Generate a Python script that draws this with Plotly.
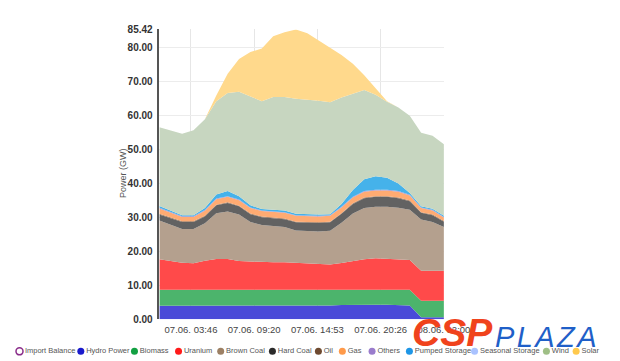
import plotly.graph_objects as go

# ---------------- data ----------------
hours = [1, 2, 3, 4, 5, 6, 7, 8, 9, 10, 11, 12, 13, 14, 15, 16, 17, 18, 19, 20, 21, 22, 23, 24, 25, 26]

hydro = [4.0, 4.0, 3.9, 3.9, 4.0, 4.0, 4.1, 4.1, 4.1, 4.1, 4.1, 4.1, 4.1, 4.1, 4.1, 4.1, 4.2, 4.3, 4.3, 4.3, 4.3, 4.2, 4.1, 0.6, 0.6, 0.6]
biomass = [4.7, 4.7, 4.8, 4.8, 4.7, 4.7, 4.6, 4.6, 4.6, 4.6, 4.6, 4.6, 4.6, 4.7, 4.7, 4.7, 4.7, 4.6, 4.6, 4.6, 4.6, 4.6, 4.6, 4.9, 4.9, 4.9]
uranium = [9.0, 8.5, 8.0, 7.8, 8.6, 9.1, 9.1, 8.5, 8.3, 8.2, 8.1, 8.1, 8.0, 7.7, 7.5, 7.4, 7.7, 8.3, 8.8, 9.1, 9.0, 9.0, 8.8, 8.8, 8.8, 8.8]
brown_coal = [11.4, 10.6, 9.9, 10.1, 11.0, 13.5, 14.0, 13.7, 11.7, 10.9, 10.6, 10.4, 9.5, 9.5, 9.6, 9.9, 11.9, 14.0, 15.1, 15.2, 15.3, 15.1, 14.8, 15.1, 14.4, 12.9]
hard_coal = [1.8, 2.0, 2.1, 2.1, 2.0, 2.3, 2.5, 2.4, 2.3, 2.3, 2.3, 2.3, 2.4, 2.4, 2.5, 2.5, 2.6, 2.8, 2.9, 2.9, 2.9, 2.8, 2.5, 2.0, 2.0, 1.6]
oil = [0.2] * 26
gas = [1.6, 1.5, 1.3, 1.3, 1.5, 1.6, 1.6, 1.6, 1.6, 1.6, 1.7, 1.7, 1.7, 1.7, 1.7, 1.7, 1.7, 1.7, 1.7, 1.7, 1.7, 1.7, 1.5, 1.2, 1.2, 1.0]
others = [0.2] * 26
pumped = [0.5, 0.3, 0.3, 0.3, 0.6, 1.2, 1.5, 1.0, 0.6, 0.4, 0.5, 0.5, 0.4, 0.4, 0.4, 0.3, 0.8, 2.0, 3.5, 4.0, 3.5, 2.2, 0.5, 0.3, 0.3, 0.3]
seasonal = [0.0] * 26
wind = [23.2, 23.7, 24.0, 25.0, 26.2, 27.5, 28.9, 30.8, 32.1, 31.8, 33.2, 33.4, 33.9, 33.9, 33.5, 33.0, 31.4, 28.4, 26.3, 24.0, 22.4, 22.4, 22.8, 21.7, 21.5, 21.1]
solar = [0, 0, 0, 0, 0, 1.7, 5.7, 9.6, 13.1, 15.5, 17.9, 19.1, 20.4, 19.5, 17.8, 16.0, 12.5, 8.8, 4.3, 1.9, 0.2, 0, 0, 0, 0, 0]

tick_hours = [3.778, 9.333, 14.889, 20.444, 26.0]
tick_labels = ["07.06. 03:46", "07.06. 09:20", "07.06. 14:53", "07.06. 20:26", "08.06. 02:00"]

y_ticks = [0, 10, 20, 30, 40, 50, 60, 70, 80, 85.42]
y_labels = ["0.00", "10.00", "20.00", "30.00", "40.00", "50.00", "60.00", "70.00", "80.00", "85.42"]

legend_names = ["Import Balance", "Hydro Power", "Biomass", "Uranium", "Brown Coal", "Hard Coal",
                "Oil", "Gas", "Others", "Pumped Storage", "Seasonal Storage", "Wind", "Solar"]
legend_colors = ["#ffffff", "#1a1acc", "#12a042", "#ff1a1a", "#9c8064", "#2a2a2a",
                 "#6e4a30", "#ff9a4a", "#9a7ccc", "#1e96e6", "#a9c2ff", "#9fbf86", "#ffc94d"]
legend_x_px = [12, 76, 132, 178, 222, 276, 324, 349, 380, 419, 487, 562, 593]

# ---------------- figure ----------------
W, H = 620, 361
series = [
    ("Hydro Power", hydro, "#4a4ad8"),
    ("Biomass", biomass, "#4cb46c"),
    ("Uranium", uranium, "#ff4a4a"),
    ("Brown Coal", brown_coal, "#b4a08e"),
    ("Hard Coal", hard_coal, "#626262"),
    ("Oil", oil, "#8a6a52"),
    ("Gas", gas, "#ffab72"),
    ("Others", others, "#a592cf"),
    ("Pumped Storage", pumped, "#45b2ea"),
    ("Seasonal Storage", seasonal, "#b6cbff"),
    ("Wind", wind, "#c7d6c0"),
    ("Solar", solar, "#ffd98c"),
]

fig = go.Figure()
for name, vals, col in series:
    fig.add_trace(go.Scatter(
        x=hours, y=vals, name=name, mode="lines", stackgroup="one",
        line=dict(width=0, color=col), fillcolor=col, showlegend=False,
        hoverinfo="skip"))

# custom legend drawn in pixel space
fig.add_trace(go.Scatter(
    x=legend_x_px, y=[349] * len(legend_x_px), xaxis="x2", yaxis="y2",
    mode="markers+text", text=legend_names, textposition="middle right",
    textfont=dict(size=7.5, color="#555555", family="Liberation Sans"),
    marker=dict(size=7, color=legend_colors,
                line=dict(width=[1.5] + [0] * 12, color="#8a2d8a")),
    showlegend=False, cliponaxis=False, hoverinfo="skip"))

fig.update_layout(
    width=W, height=H,
    margin=dict(l=0, r=0, t=0, b=0),
    paper_bgcolor="white", plot_bgcolor="rgba(0,0,0,0)",
    showlegend=False,
    font=dict(family="Liberation Sans", color="#444444"),
    xaxis=dict(
        domain=[158 / W, 455 / W], range=[1, 26],
        tickvals=tick_hours, ticktext=tick_labels, tickangle=0,
        tickfont=dict(size=9.5, color="#444444"),
        showgrid=True, gridcolor="#e6e6e6", gridwidth=1,
        showline=False, zeroline=False, ticks="", ticklabelstandoff=3),
    yaxis=dict(
        domain=[1 - 316 / H, 1 - 17 / H], range=[0, 85.42],
        tickvals=y_ticks, ticktext=y_labels,
        tickfont=dict(size=10, color="#333333", weight="bold"),
        showgrid=True, gridcolor="#ececec", gridwidth=1,
        showline=True, linecolor="#555555", linewidth=1.5,
        zeroline=False, ticks="", ticklabelstandoff=3),
    xaxis2=dict(domain=[0, 1], range=[0, W], visible=False, anchor="y2", fixedrange=True),
    yaxis2=dict(domain=[0, 1], range=[H, 0], visible=False, anchor="x2", fixedrange=True),
    annotations=[
        dict(text="Power (GW)", x=120 / W, y=1 - 165 / H, xref="paper", yref="paper",
             xanchor="center", yanchor="middle",
             textangle=-90, showarrow=False, font=dict(size=9, color="#555555")),
        dict(text="<b><i>CSP</i></b>", x=464 / W, y=1 - 330 / H, xref="paper", yref="paper",
             xanchor="center", yanchor="middle",
             showarrow=False, font=dict(size=39, color="#f0431c", family="Liberation Sans")),
        dict(text="<i>P\u200aL\u200aA\u200aZ\u200aA</i>", x=562 / W, y=1 - 334 / H,
             xref="paper", yref="paper", xanchor="center", yanchor="middle",
             showarrow=False, font=dict(size=29, color="#1f5fc8", family="Liberation Sans")),
    ],
)

fig.write_html("out.html")
